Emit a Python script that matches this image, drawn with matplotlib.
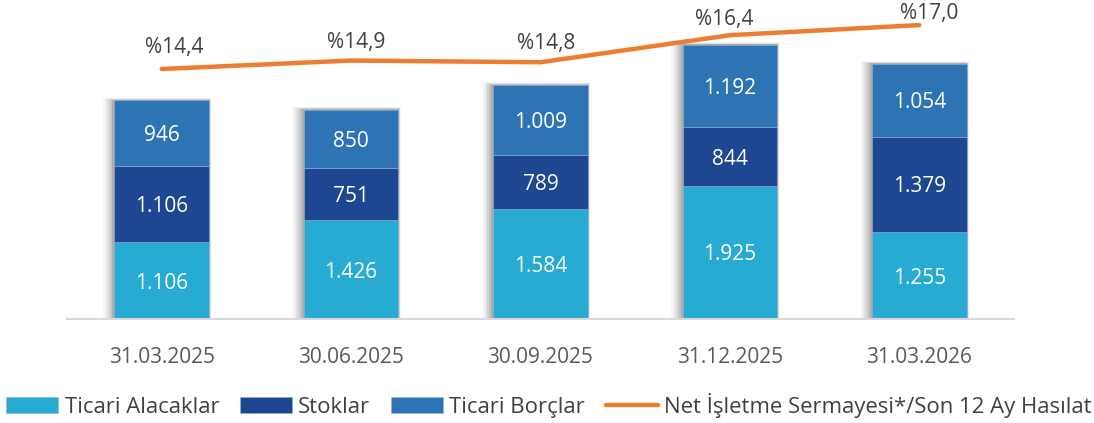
import numpy as np
import matplotlib.pyplot as plt

plt.rcParams['font.family'] = ['Open Sans', 'DejaVu Sans']

# ---------- data ----------
dates = ['31.03.2025', '30.06.2025', '30.09.2025', '31.12.2025', '31.03.2026']
alacaklar = [1106, 1426, 1584, 1925, 1255]
stoklar = [1106, 751, 789, 844, 1379]
borclar = [946, 850, 1009, 1192, 1054]
nis_oran = [14.4, 14.9, 14.8, 16.4, 17.0]

pct_labels = ['%14,4', '%14,9', '%14,8', '%16,4', '%17,0']

c_alac = '#27ABD2'
c_stok = '#1F4690'
c_borc = '#2E74B5'
c_line = '#ED7D31'


def tr_num(v):
    return f'{v:,}'.replace(',', '.')


fig = plt.figure(figsize=(10.94, 4.23), dpi=100)
ax = fig.add_axes([67 / 1094, 104 / 423, 947 / 1094, 309 / 423])
ax2 = ax.twinx()

x = np.arange(len(dates))
w = 0.5

# soft shadow behind the bars
totals = np.array(alacaklar) + np.array(stoklar) + np.array(borclar)
for k, a in zip(range(6, 0, -1), [0.03, 0.04, 0.05, 0.06, 0.08, 0.10]):
    ax.bar(x - 0.004 * k, totals + 6 * k, width=w + 0.012 * k, color='black',
           alpha=a, linewidth=0, zorder=1)

b1 = ax.bar(x, alacaklar, width=w, color=c_alac, label='Ticari Alacaklar', zorder=2,
            edgecolor='#8fb3d9', linewidth=0.4)
b2 = ax.bar(x, stoklar, width=w, bottom=alacaklar, color=c_stok, label='Stoklar', zorder=2,
            edgecolor='#8fb3d9', linewidth=0.4)
bottom3 = np.array(alacaklar) + np.array(stoklar)
b3 = ax.bar(x, borclar, width=w, bottom=bottom3, color=c_borc, label='Ticari Borçlar', zorder=2,
            edgecolor='#8fb3d9', linewidth=0.4)

for i in range(len(dates)):
    ax.text(x[i], alacaklar[i] / 2, tr_num(alacaklar[i]), ha='center', va='center_baseline',
            color='white', fontsize=15, zorder=3)
    ax.text(x[i], alacaklar[i] + stoklar[i] / 2, tr_num(stoklar[i]), ha='center',
            va='center_baseline', color='white', fontsize=15, zorder=3)
    ax.text(x[i], bottom3[i] + borclar[i] / 2, tr_num(borclar[i]), ha='center',
            va='center_baseline', color='white', fontsize=15, zorder=3)

ax.set_xlim(-0.5, len(dates) - 0.5)
ax.set_ylim(0, 309 / 0.0692)
ax.set_yticks([])
ax.set_xticks(x)
ax.set_xticklabels(dates, fontsize=15, color='#595959')
ax.tick_params(axis='x', length=0, pad=20)
for s in ['top', 'right', 'left']:
    ax.spines[s].set_visible(False)
ax.spines['bottom'].set_color('#d9d9d9')
ax.spines['bottom'].set_linewidth(1.5)

# line on secondary axis
ln, = ax2.plot(x, nis_oran, color=c_line, linewidth=3.2, solid_capstyle='round',
               label='Net İşletme Sermayesi*/Son 12 Ay Hasılat', zorder=4)
# label offsets (points) - shrink toward the top so the last one stays inside
lbl_dx = [9, 4, 4, -4, 7]
lbl_dy = [17, 15, 15, 13, 10]
for i in range(len(dates)):
    ax2.annotate(pct_labels[i], (x[i], nis_oran[i]), xytext=(lbl_dx[i], lbl_dy[i]),
                 textcoords='offset points', ha='center', va='center_baseline',
                 fontsize=15, color='#404040')
ax2.set_ylim(14.4 - 250 / 16.9, 14.4 + 59 / 16.9)
ax2.set_yticks([])
for s in ['top', 'right', 'left', 'bottom']:
    ax2.spines[s].set_visible(False)

handles = [b1, b2, b3, ln]
leg = fig.legend(handles, [h.get_label() for h in handles], loc='lower center',
                 bbox_to_anchor=(0.502, -0.035), ncol=4, frameon=False, fontsize=15.9,
                 handlelength=2.35, handleheight=0.7, handletextpad=0.28, columnspacing=0.95,
                 labelcolor='#404040')

plt.savefig('out.png', dpi=100)
